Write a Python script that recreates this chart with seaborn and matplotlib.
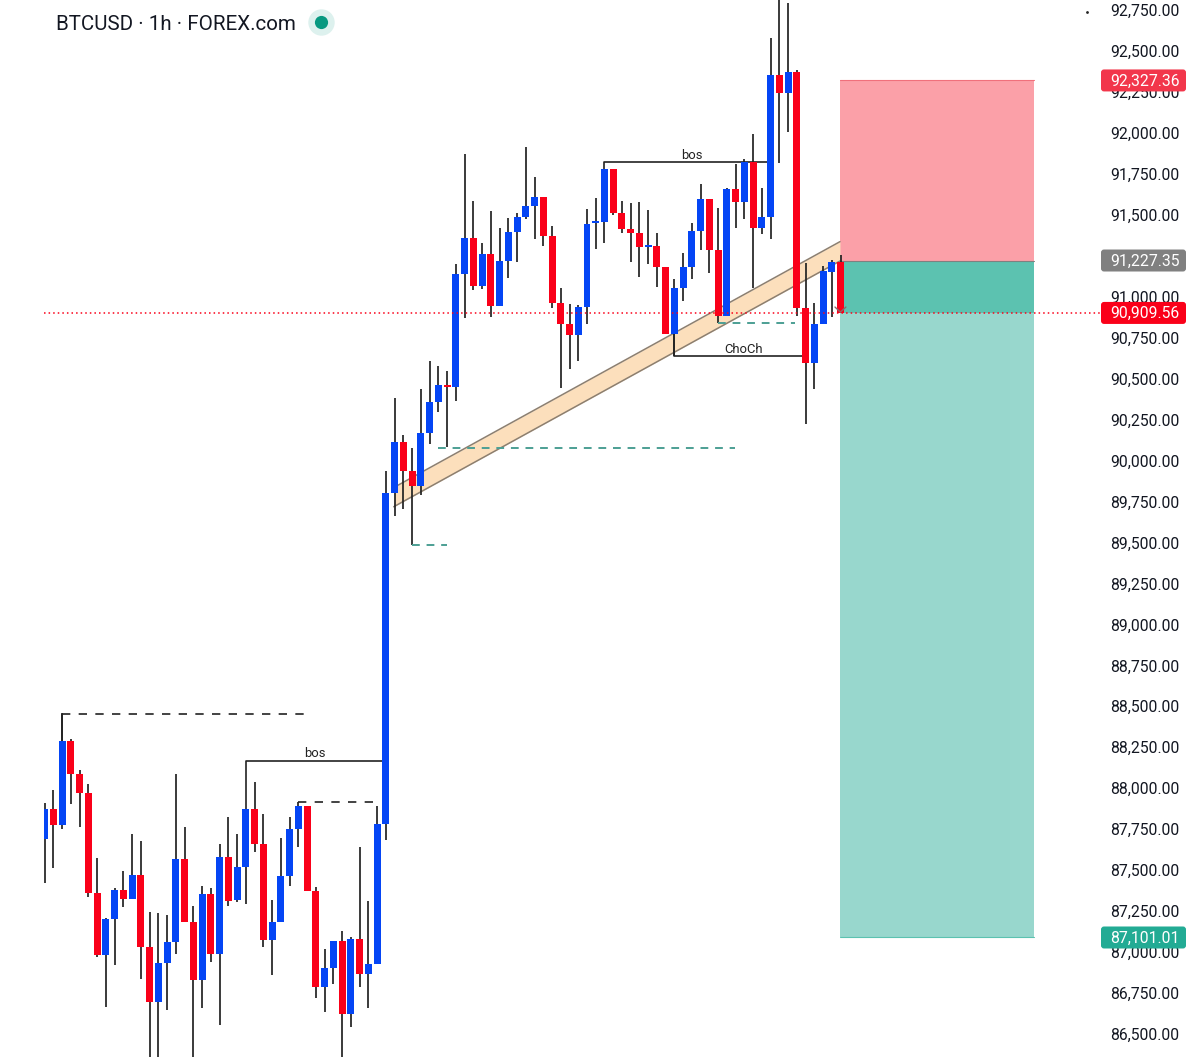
import numpy as np
import pandas as pd
import seaborn as sns
import matplotlib.pyplot as plt
from matplotlib.patches import FancyBboxPatch
from matplotlib.transforms import IdentityTransform

# 1h candles
high = [87912, 87989, 88457, 88299, 88111, 88026, 87572, 87206, 87391, 87497,
        87723, 87680, 87245, 87237, 87228, 88085, 87763, 87281, 87405, 87393,
        87658, 87826, 87721, 87871, 88036, 87841, 87318, 87694, 87823, 87918,
        87892, 87399, 87019, 87068, 87129, 87090, 87641, 87312, 87892, 89936,
        90380, 90158, 90075, 90439, 90608, 90579, 90548, 91200, 91869, 91584,
        91326, 91523, 91418, 91479, 91509, 91912, 91729, 91607, 91433, 91051,
        90955, 90949, 91535, 91604, 91778, 91778, 91582, 91570, 91576, 91531,
        91387, 91181, 91106, 91269, 91448, 91688, 91595, 91541, 91665, 91812,
        91842, 91991, 91662, 92581, 92872, 92791, 92384, 91204, 90963, 91187,
        91222, 91255]
low = [87420, 87511, 87749, 87902, 87765, 87334, 86968, 86663, 86921, 87277,
       87326, 86834, 86250, 86250, 86646, 86986, 87182, 86250, 86657, 86941,
       86553, 87283, 87304, 87292, 87611, 87029, 86862, 87182, 87405, 87643,
       87371, 86718, 86634, 86803, 86250, 86541, 86785, 86657, 86925, 87682,
       89663, 89704, 89485, 89790, 90101, 90296, 90081, 90362, 90868, 91039,
       91047, 90874, 90945, 91116, 91214, 91472, 91350, 91310, 90929, 90441,
       90557, 90609, 90832, 91291, 91326, 91497, 91391, 91214, 91120, 91200,
       91061, 90772, 90638, 90974, 91106, 91285, 91147, 90838, 90884, 91421,
       91472, 91051, 91381, 91354, 91818, 92003, 90882, 90223, 90435, 90835,
       90878, 90899]
open_ = [87692, 87871, 87777, 88290, 88085, 87971, 87359, 86982, 87204, 87379,
         87326, 87470, 87031, 86695, 86931, 87063, 87568, 87182, 86828, 87356,
         86986, 87578, 87318, 87521, 87871, 87660, 87074, 87182, 87464, 87753,
         87892, 87371, 86785, 86905, 87068, 86620, 87080, 86864, 86925, 87782,
         89800, 90115, 89936, 89845, 90166, 90356, 90461, 90449, 91139, 91360,
         91065, 91263, 90945, 91220, 91393, 91485, 91555, 91607, 91371, 90963,
         90832, 90766, 90935, 91450, 91458, 91778, 91511, 91413, 91389, 91305,
         91310, 91181, 90772, 91055, 91183, 91403, 91595, 91283, 90884, 91656,
         91576, 91820, 91421, 91486, 92355, 92242, 92370, 90931, 90594, 90835,
         91153, 91212]
close = [87871, 87777, 88290, 88085, 87971, 87359, 86982, 87204, 87379, 87324,
         87470, 87031, 86695, 86931, 87063, 87568, 87182, 86828, 87356, 86986,
         87578, 87314, 87521, 87871, 87660, 87074, 87185, 87466, 87753, 87892,
         87371, 86785, 86905, 87068, 86620, 87080, 86864, 86925, 87782, 89800,
         90115, 89936, 89845, 90166, 90356, 90461, 90449, 91139, 91360, 91065,
         91263, 90945, 91220, 91393, 91485, 91555, 91607, 91371, 90963, 90832,
         90766, 90935, 91444, 91458, 91778, 91511, 91413, 91389, 91302, 91311,
         91181, 90772, 91055, 91183, 91403, 91595, 91283, 90884, 91656, 91576,
         91822, 91421, 91486, 92355, 92243, 92370, 90931, 90594, 90835, 91155,
         91212, 90899]

# price axis
y_ticks = np.arange(86500, 92751, 250)
y_min, y_max = 86359.6, 92811

# short position levels and their tags
stop_level = 92320
entry_level = 91221
last_level = 90901
target_level = 87089
tag_levels = [stop_level, entry_level, last_level, target_level]
tag_texts = ['92,327.36', '91,227.35', '90,909.56', '87,101.01']
tag_colors = ['#F2364B', '#808080', '#FA0019', '#22AB94']

# drawings: (start candle, end candle, price)
black_dashes = [(2, 30, 88453), (29, 37.8, 87918)]
teal_dashes = [(45, 78.9, 90079), (42, 46, 89485), (77, 85.8, 90840)]
struct_lines = [(23, 39, 88168, 87871, 'bos', 30.9),
                (64, 83, 91822, 91778, 'bos', 74),
                (72, 87, 90638, 90772, 'ChoCh', 79.9)]
band_x = [39.9, 90.92]
band_upper = [89835, 91336]
band_lower = [89718, 91218]
rect_x = [90.92, 113.1]
chevron_x = [90.35, 90.97, 91.6]
chevron_y = [90937, 90906, 90937]

C_UP = '#0445F5'
C_DOWN = '#FA0019'
C_WICK = '#222222'

sns.set_theme(style='white')
plt.rcParams['font.family'] = ['Roboto', 'DejaVu Sans']

df = pd.DataFrame({'idx': np.arange(len(close)), 'high': high, 'low': low,
                   'open': open_, 'close': close})
df['bottom'] = df[['open', 'close']].min(axis=1)
df['body'] = (df['close'] - df['open']).abs().clip(lower=12)

fig = plt.figure(figsize=(12, 10.57), dpi=100)
ax = fig.add_axes([44 / 1200, 0, (1100 - 44) / 1200, 1])

# position box and trend band
ax.fill_between(rect_x, entry_level, stop_level, color='#FBA0A8', lw=0, zorder=1)
ax.fill_between(rect_x, target_level, entry_level, color='#98D7CD', lw=0, zorder=1)
ax.fill_between(rect_x, last_level, entry_level, color='#5CC2B0', lw=0, zorder=1)
ax.plot(rect_x, [stop_level] * 2, color='#F0707C', lw=0.8, zorder=1.2)
ax.plot(rect_x, [entry_level] * 2, color='#808080', lw=0.8, zorder=1.2)
ax.plot(rect_x, [target_level] * 2, color='#5CC2B0', lw=0.8, zorder=1.2)
ax.fill_between(band_x, band_lower, band_upper, color='#FCDFBC', lw=0, zorder=1)
ax.plot(band_x, band_upper, color='#8C7F70', lw=1.1, zorder=1.2)
ax.plot(band_x, band_lower, color='#8C7F70', lw=1.1, zorder=1.2)

# candles
ax.vlines(df['idx'], df['low'], df['high'], color=C_WICK, lw=1.25, zorder=2)
for is_up, color in [(True, C_UP), (False, C_DOWN)]:
    part = df[(df['close'] >= df['open']) == is_up]
    sns.barplot(data=part, x='idx', y='body', bottom=part['bottom'], color=color,
                saturation=1, width=0.8, native_scale=True, errorbar=None,
                linewidth=0, legend=False, zorder=3, ax=ax)
ax.plot(chevron_x, chevron_y, color='#8A6A6A', lw=1, zorder=3.5)

# marked levels
for x0, x1, price in black_dashes:
    ax.plot([x0, x1], [price, price], color='#222222', lw=1.2, dashes=(5, 5), zorder=4)
ax.vlines(2, 88290, 88453, color=C_WICK, lw=1.25, zorder=2)
for x0, x1, price in teal_dashes:
    ax.plot([x0, x1], [price, price], color='#4C9F94', lw=1.4, dashes=(4, 3.5), zorder=4)
for x0, x1, price, anchor, label, text_x in struct_lines:
    ax.plot([x0, x0, x1], [anchor, price, price], color='#222222', lw=1.2, zorder=2.5)
    ax.text(text_x, price + 2, label, ha='center', va='bottom', fontsize=9.4,
            color='#222222', zorder=5)

ax.axhline(last_level, color='#FA0019', lw=1.1, ls=(0, (1, 2)), zorder=5)

ax.set_xlim(-0.08, 120.65)
ax.set_ylim(y_min, y_max)
ax.set_xlabel('')
ax.set_ylabel('')
ax.yaxis.tick_right()
ax.set_yticks(y_ticks)
ax.set_yticklabels([f'{v:,.2f}' for v in y_ticks], fontsize=11.3, color='#131722')
ax.tick_params(axis='y', length=0, pad=7.4)
ax.tick_params(axis='x', bottom=False, labelbottom=False)
sns.despine(ax=ax, left=True, right=True, top=True, bottom=True)
ax.patch.set_alpha(0)

# price tags on the scale, sized in pixels
for price, text, color in zip(tag_levels, tag_texts, tag_colors):
    y_px = ax.transData.transform((0, price))[1]
    fig.add_artist(FancyBboxPatch((1103, y_px - 9), 81, 18,
                                  boxstyle='round,pad=2,rounding_size=3',
                                  transform=IdentityTransform(), fc=color, ec='none'))
    fig.text(1145 / 1200, (y_px + 1) / 1057, text, color='white', fontsize=11.3,
             ha='center', va='center_baseline')

# header
fig.text(56 / 1200, 1 - 22 / 1057, 'BTCUSD · 1h · FOREX.com', fontsize=14.75,
         color='#131722', ha='left', va='center_baseline')
fig.add_artist(plt.Line2D([321 / 1200], [1 - 22 / 1057], marker='o', ms=19,
                          color='#DDF1EE', mew=0))
fig.add_artist(plt.Line2D([321 / 1200], [1 - 22 / 1057], marker='o', ms=9.5,
                          color='#089981', mew=0))
fig.add_artist(plt.Line2D([1087 / 1200], [1 - 12 / 1057], marker='o', ms=2,
                          color='#222222', mew=0))

fig.savefig('out.png', dpi=100)
